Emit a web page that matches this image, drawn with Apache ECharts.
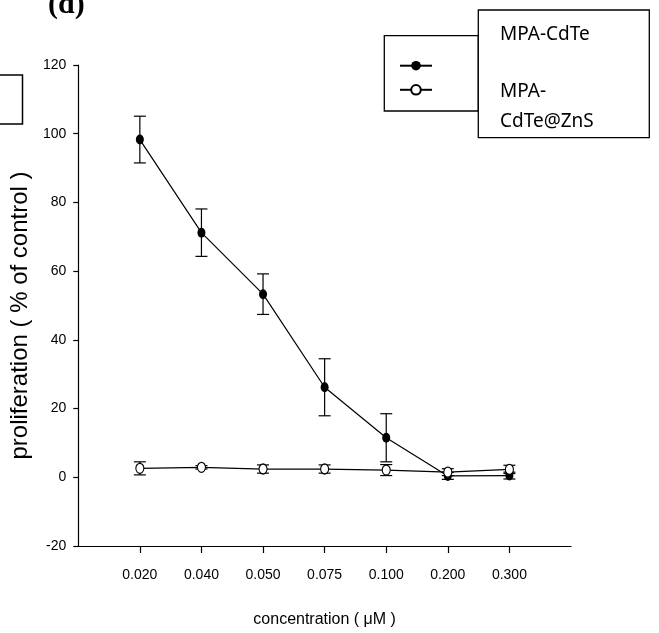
<!DOCTYPE html>
<html>
<head>
<meta charset="utf-8">
<script src="https://cdn.jsdelivr.net/npm/echarts@6/dist/echarts.min.js"></script>
<style>html,body{margin:0;padding:0;background:#fff}#c{width:659px;height:633px}</style>
</head>
<body>
<div id="c"></div>
<script>
// ---- data ----
const categories = ['0.020', '0.040', '0.050', '0.075', '0.100', '0.200', '0.300'];
const cdteMean = [98.3, 71.2, 53.3, 26.2, 11.5, 0.4, 0.5];
const cdteErr  = [6.8, 6.9, 5.9, 8.3, 7.0, 1.0, 1.0];
const znsMean  = [2.6, 2.9, 2.4, 2.4, 2.1, 1.5, 2.3];
const znsErr   = [1.9, 0.5, 1.2, 1.2, 1.6, 1.0, 1.2];
const yTicks = { min: -20, max: 120, step: 20 };
const seriesNames = ['MPA-CdTe', 'MPA-CdTe@ZnS'];

const xData = [''].concat(categories, ['']);
const sans = "'Liberation Sans', Arial, sans-serif";

function errData(mean, err) {
  return categories.map((c, i) => [c, mean[i] - err[i], mean[i] + err[i]]);
}
function errRender(params, api) {
  const lo = api.coord([api.value(0), api.value(1)]);
  const hi = api.coord([api.value(0), api.value(2)]);
  const w = 6;
  const st = { stroke: '#000', lineWidth: 1.2 };
  return {
    type: 'group',
    children: [
      { type: 'line', shape: { x1: lo[0], y1: lo[1], x2: hi[0], y2: hi[1] }, style: st },
      { type: 'line', shape: { x1: lo[0] - w, y1: lo[1], x2: lo[0] + w, y2: lo[1] }, style: st },
      { type: 'line', shape: { x1: hi[0] - w, y1: hi[1], x2: hi[0] + w, y2: hi[1] }, style: st }
    ]
  };
}

const chart = echarts.init(document.getElementById('c'), null, { renderer: 'canvas' });
chart.setOption({
  backgroundColor: '#fff',
  animation: false,
  grid: { left: 76, top: 65, right: 88, bottom: 83, containLabel: false },
  xAxis: {
    type: 'category',
    data: xData,
    boundaryGap: false,
    axisLine: { onZero: false, lineStyle: { color: '#000', width: 1.2 } },
    axisTick: { show: true, inside: false, length: 7, interval: (i) => i > 0 && i < xData.length - 1, lineStyle: { color: '#000', width: 1.2 } },
    axisLabel: { interval: 0, color: '#000', fontFamily: sans, fontSize: 14, margin: 22 },
    splitLine: { show: false },
    name: 'concentration ( μM )',
    nameLocation: 'middle',
    nameGap: 66,
    nameTextStyle: { color: '#000', fontFamily: sans, fontSize: 16 }
  },
  yAxis: {
    type: 'value',
    min: yTicks.min, max: yTicks.max, interval: yTicks.step,
    axisLine: { show: true, onZero: false, lineStyle: { color: '#000', width: 1.2 } },
    axisTick: { show: true, inside: false, length: 5, lineStyle: { color: '#000', width: 1.2 } },
    axisLabel: { color: '#000', fontFamily: sans, fontSize: 14, margin: 12 },
    splitLine: { show: false },
    name: 'proliferation ( % of control )',
    nameLocation: 'middle',
    nameGap: 40,
    nameTextStyle: { color: '#000', fontFamily: sans, fontSize: 24, padding: [0, 20, 0, 0] }
  },
  legend: {
    orient: 'vertical',
    left: 394, top: 54.7,
    itemWidth: 32, itemHeight: 12, itemGap: 13.3,
    formatter: () => '',
    data: seriesNames,
    selectedMode: false
  },
  series: [
    { name: 'errCdTe', type: 'custom', renderItem: errRender, data: errData(cdteMean, cdteErr), encode: { x: 0, y: [1, 2] }, z: 2 },
    { name: 'errZnS', type: 'custom', renderItem: errRender, data: errData(znsMean, znsErr), encode: { x: 0, y: [1, 2] }, z: 2 },
    {
      name: seriesNames[0], type: 'line',
      data: categories.map((c, i) => [c, cdteMean[i]]),
      symbol: 'circle', symbolSize: [8, 10],
      itemStyle: { color: '#000' },
      lineStyle: { color: '#000', width: 1.2 },
      z: 3
    },
    {
      name: seriesNames[1], type: 'line',
      data: categories.map((c, i) => [c, znsMean[i]]),
      symbol: 'circle', symbolSize: [8, 10],
      itemStyle: { color: '#fff', borderColor: '#000', borderWidth: 1.2 },
      lineStyle: { color: '#000', width: 1.2 },
      z: 4
    }
  ],
  graphic: [
    { type: 'text', left: 48, top: -10, style: { text: '(d)', font: "bold 30px 'Liberation Serif', 'Times New Roman', serif", fill: '#000' } },
    { type: 'rect', shape: { x: -5, y: 75, width: 27.5, height: 49 }, style: { fill: 'none', stroke: '#000', lineWidth: 1.5 } },
    { type: 'rect', shape: { x: 384.3, y: 35.7, width: 94, height: 75.3 }, style: { fill: 'none', stroke: '#000', lineWidth: 1.3 } },
    { type: 'rect', shape: { x: 478.3, y: 10, width: 171, height: 127.7 }, style: { fill: '#fff', stroke: '#000', lineWidth: 1.3 } },
    { type: 'text', x: 500, y: 35, style: { text: 'MPA-CdTe', font: "19px 'Noto Sans', 'Open Sans', sans-serif", fill: '#000', verticalAlign: 'middle' } },
    { type: 'text', x: 500, y: 106.7, style: { text: 'MPA-\nCdTe@ZnS', font: "19px 'Noto Sans', 'Open Sans', sans-serif", lineHeight: 30, fill: '#000', verticalAlign: 'middle' } }
  ]
});
</script>
</body>
</html>
